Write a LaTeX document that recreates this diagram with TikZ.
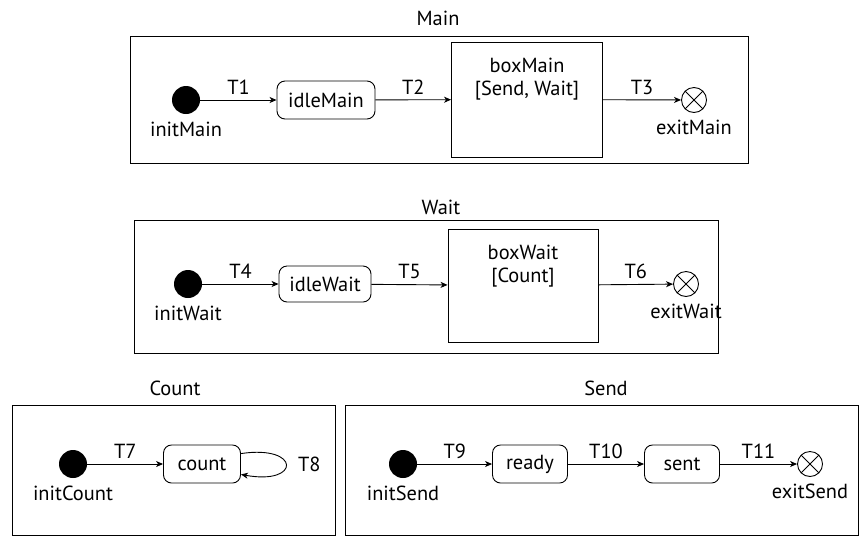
\documentclass[tikz,border=0pt]{standalone}
\usepackage{fontspec}
\setmainfont{PT Sans}
\usetikzlibrary{arrows.meta,positioning}
\tikzset{
    machine/.style = {
        x=0.5pt, y=-0.5pt,
        font=\fontsize{10.2}{11.5}\selectfont,
        line width=0.45pt,
        >={Stealth[length=3.5pt,width=3pt,inset=1pt]},
        },
    frame/.style = {
        draw,
        },
    title/.style = {
        inner sep=1pt,
        },
    state/.style = {
        draw,
        rounded corners=4pt,
        minimum height=19pt,
        inner sep=2pt,
        },
    init/.style = {
        circle,
        fill,
        minimum size=14pt,
        inner sep=0pt,
        label distance=2.5pt,
        },
    exit/.style = {
        circle,
        draw,
        minimum size=12.5pt,
        inner sep=0pt,
        label distance=3pt,
        path picture={
            \draw (path picture bounding box.north west) -- (path picture bounding box.south east)
                  (path picture bounding box.north east) -- (path picture bounding box.south west);
            },
        },
    boxstate/.style = {
        draw,
        minimum width=75.5pt,
        minimum height=57.5pt,
        },
    boxtext/.style = {
        align=center,
        inner sep=1pt,
        },
    trans/.style = {
        draw,
        ->,
        },
    trig/.style = {
        above,
        inner sep=2.5pt,
        },
}

\begin{document}
\begin{tikzpicture}[machine]
    \useasboundingbox (0,0) rectangle (860,536);

    % Main
    \draw[frame] (130,36) rectangle (748,163);
    \node[title] (titleMain) at (438,18) {Main};
    \node[init, label={below:initMain}] (initMain) at (186,100) {};
    \node[state, minimum width=49pt] (idleMain) at (326,100) {idleMain};
    \node[boxstate] (boxMain) at (527,99.5) {};
    \node[boxtext, below=7pt of boxMain.north] (boxMainText) {boxMain\\{}[Send, Wait]};
    \node[exit, label={below:exitMain}] (exitMain) at (694,100) {};

    \path (initMain) edge[trans] node[trig] {T1} (idleMain);
    \path (idleMain) edge[trans] node[trig] {T2} (boxMain);
    \path (boxMain) edge[trans] node[trig] {T3} (exitMain);

    % Wait
    \draw[frame] (134,220) rectangle (718,353);
    \node[title] (titleWait) at (441,207) {Wait};
    \node[init, label={below:initWait}] (initWait) at (188,284) {};
    \node[state, minimum width=46pt, minimum height=18pt] (idleWait) at (325,284) {idleWait};
    \node[boxstate, minimum width=75pt, minimum height=56.5pt] (boxWait) at (523,285.5) {};
    \node[boxtext, below=7pt of boxWait.north] (boxWaitText) {boxWait\\{}[Count]};
    \node[exit, label={below:exitWait}] (exitWait) at (686,284) {};

    \path (initWait) edge[trans] node[trig] {T4} (idleWait);
    \path (idleWait) edge[trans] node[trig] {T5} (boxWait);
    \path (boxWait) edge[trans] node[trig] {T6} (exitWait);

    % Count
    \draw[frame] (12,405) rectangle (335,535.5);
    \node[title] (titleCount) at (175,388) {Count};
    \node[init, label={below:initCount}] (initCount) at (73,464) {};
    \node[state, minimum width=38.5pt] (count) at (202,464) {count};

    \path (initCount) edge[trans] node[trig] {T7} (count);
    \draw[trans] (count.15) .. controls +(60,-9) and +(60,11) .. node[right=2.5pt] {T8} (count.-15);

    % Send
    \draw[frame] (345,405) rectangle (858,535.5);
    \node[title] (titleSend) at (606,388) {Send};
    \node[init, label={below:initSend}] (initSend) at (403,464) {};
    \node[state, minimum width=37.5pt] (ready) at (530,464) {ready};
    \node[state, minimum width=37.5pt] (sent) at (682,464) {sent};
    \node[exit, label={below:exitSend}] (exitSend) at (810,464) {};

    \path (initSend) edge[trans] node[trig] {T9} (ready);
    \path (ready) edge[trans] node[trig] {T10} (sent);
    \path (sent) edge[trans] node[trig] {T11} (exitSend);
\end{tikzpicture}
\end{document}
